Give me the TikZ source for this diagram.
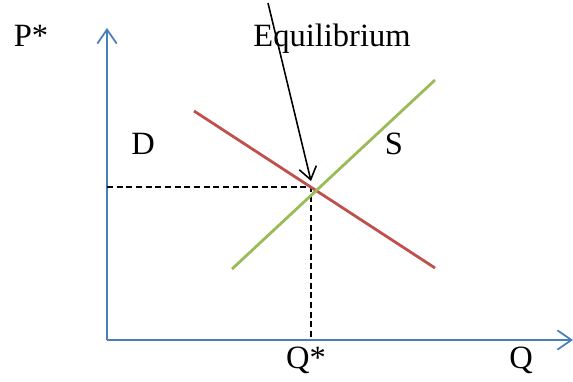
\documentclass[tikz,border=0pt]{standalone}
\usepackage{fontspec}
\setmainfont{Liberation Serif}
\usetikzlibrary{arrows.meta}
\definecolor{axisblue}{RGB}{74,126,187}
\definecolor{demandred}{RGB}{192,80,77}
\definecolor{supplygreen}{RGB}{155,187,89}

\begin{document}
\begin{tikzpicture}[x=0.02cm,y=-0.02cm,font=\fontsize{18.5}{20}\selectfont,
  axis/.style={axisblue,line width=1pt,-{Straight Barb[length=8pt,width=11pt]}},
  curve/.style={line width=1.6pt},
  guide/.style={line width=0.9pt,dash pattern=on 3.5pt off 2pt},
  lbl/.style={anchor=base,inner sep=0pt}]
\useasboundingbox (0,0) rectangle (573,381);
\coordinate (O) at (107,340);
\coordinate (ytop) at (107,28);
\coordinate (xend) at (573,340);
\coordinate (Pstar) at (107,187);
\coordinate (Qstar) at (311,340);
\coordinate (E) at (311,187);
\coordinate (Dtop) at (194,111);
\coordinate (Dbot) at (435,268);
\coordinate (Sbot) at (232,269);
\coordinate (Stop) at (435,80);
\coordinate (from) at (268,3);
\coordinate (tip) at (311,181);
\draw[axis] (O) -- (ytop);
\draw[axis] (O) -- (xend);
\draw[guide] (Pstar) -- (E) -- (Qstar);
\draw[curve,demandred] (Dtop) -- (Dbot);
\draw[curve,supplygreen] (Sbot) -- (Stop);
\draw[line width=0.9pt,-{Straight Barb[length=7pt,width=10pt]}] (from) -- (tip);
\node[lbl] (pl) at (31,47) {P*};
\node[lbl] (el) at (332,47) {Equilibrium};
\node[lbl] (dl) at (143,155) {D};
\node[lbl] (sl) at (394,155) {S};
\node[lbl] (ql) at (306,368) {Q*};
\node[lbl] (qx) at (521,368) {Q};
\end{tikzpicture}
\end{document}
